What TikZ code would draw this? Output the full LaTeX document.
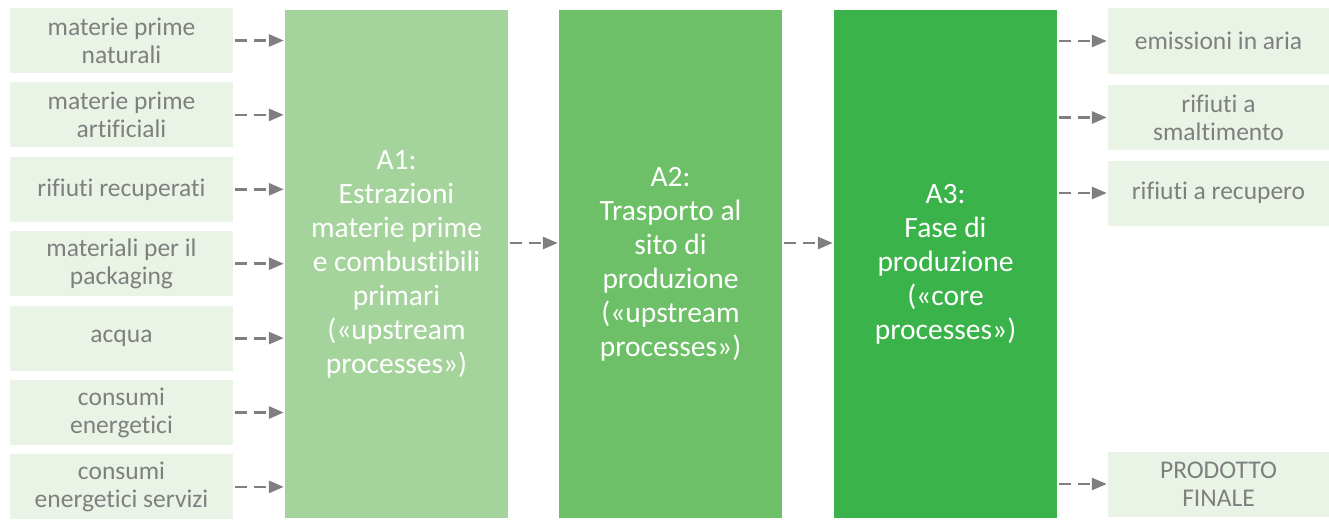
\documentclass[tikz,border=0pt]{standalone}
\usepackage{fontspec}
\setmainfont{Carlito}[Ligatures=NoCommon]
\usepackage{xcolor}
\usetikzlibrary{arrows.meta}
\usetikzlibrary{calc}
\usetikzlibrary{positioning}
\definecolor{boxlight}{HTML}{EAF4E6}
\definecolor{phaseone}{HTML}{A4D49B}
\definecolor{phasetwo}{HTML}{6DC068}
\definecolor{phasethree}{HTML}{3AB44A}
\definecolor{labelgray}{HTML}{7F7F7F}
\begin{document}
\begin{tikzpicture}[x=1pt,y=-1pt,node distance=9pt,
  every edge/.style={draw=labelgray,line width=2.8pt,dash pattern=on 12pt off 7pt,
    -{Triangle[length=15pt,width=12pt]},shorten <=2pt,shorten >=1pt}]
 \tikzstyle{inbox}=[fill=boxlight, text=labelgray, minimum width=223pt, minimum height=65pt,
   align=center, font=\fontsize{25.5}{28}\selectfont, inner sep=0pt]
 \tikzstyle{outbox}=[inbox, minimum width=221pt]
 \tikzstyle{phase}=[minimum width=223pt, minimum height=508pt, text=white,
   align=center, font=\fontsize{29.5}{34}\selectfont, inner sep=0pt]
 \useasboundingbox (0,0) rectangle (1329,519);
	% inputs
	\node[inbox] (N) at (121.5,40.5) {materie prime\\naturali};
	\node[inbox] (S) [below=of N] {materie prime\\artificiali};
	\node[inbox] (R) [below=of S] {rifiuti recuperati};
	\node[inbox] (P) [below=of R] {materiali per il\\packaging};
	\node[inbox] (W) [below=of P] {acqua};
	\node[inbox] (E) [below=of W] {consumi\\energetici};
	\node[inbox] (X) [below=of E] {consumi\\energetici servizi};
	% phases
	\node[phase,fill=phaseone]   (A1) at (396.5,264) {A1:\\Estrazioni\\materie prime\\e combustibili\\primari\\(«upstream\\processes»)};
	\node[phase,fill=phasetwo]   (A2) at (670.5,264) {A2:\\Trasporto al\\sito di\\produzione\\(«upstream\\processes»)};
	\node[phase,fill=phasethree] (A3) at (945.5,264) {A3:\\Fase di\\produzione\\(«core\\processes»)};
	% outputs
	\node[outbox] (O1) at (1218.5,41) {emissioni in aria};
	\node[outbox] (O2) at (1218.5,117.5) {rifiuti a\\smaltimento};
	\node[outbox] (O3) at (1218.5,193) {rifiuti a recupero};
	\node[outbox] (O4) at (1218.5,484) {PRODOTTO\\FINALE};
	\path
		(N.east) edge (N.east -| A1.west)
		(S.east) edge (S.east -| A1.west)
		(R.east) edge (R.east -| A1.west)
		(P.east) edge (P.east -| A1.west)
		(W.east) edge (W.east -| A1.west)
		(E.east) edge (E.east -| A1.west)
		(X.east) edge (X.east -| A1.west)
		($(A1.east)+(0,-21)$) edge ($(A2.west)+(0,-21)$)
		($(A2.east)+(0,-21)$) edge ($(A3.west)+(0,-21)$)
		(O1.west -| A3.east) edge (O1.west)
		(O2.west -| A3.east) edge (O2.west)
		(O3.west -| A3.east) edge (O3.west)
		(O4.west -| A3.east) edge (O4.west);
\end{tikzpicture}
\end{document}
